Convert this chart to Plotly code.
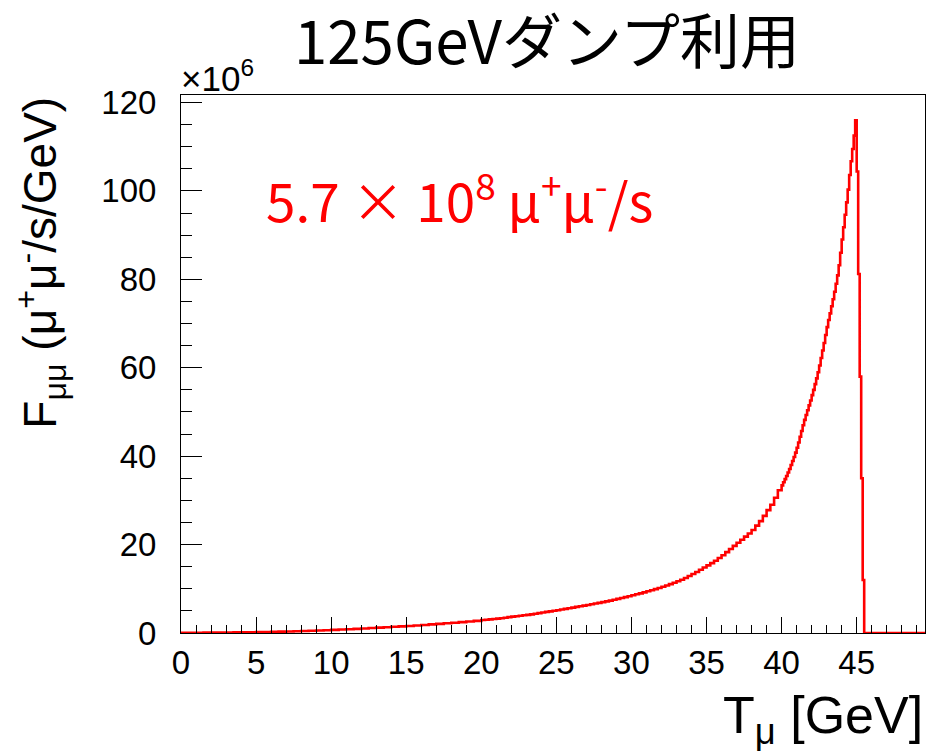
import numpy as np
import plotly.graph_objects as go

# Histogram content (x10^6 mu+mu-/s/GeV)
low_start, low_width = 0.0, 0.5
low_vals = [0.05, 0.06, 0.07, 0.08, 0.09, 0.10, 0.12, 0.14, 0.16, 0.18,
            0.20, 0.23, 0.26, 0.30, 0.34, 0.39, 0.44, 0.50, 0.56, 0.63,
            0.70, 0.78, 0.86, 0.94, 1.03, 1.12, 1.21, 1.30, 1.40, 1.50,
            1.60, 1.71, 1.82, 1.94, 2.06, 2.19, 2.32, 2.46, 2.60, 2.75]

mid_start, mid_width = 20.0, 0.25
mid_vals = [2.93, 3.00, 3.08, 3.16, 3.25, 3.35, 3.46, 3.58,
            3.70, 3.80, 3.90, 4.00, 4.10, 4.22, 4.36, 4.50,
            4.65, 4.78, 4.90, 5.03, 5.16, 5.30, 5.45, 5.60,
            5.75, 5.90, 6.05, 6.20, 6.35, 6.50, 6.66, 6.82,
            6.98, 7.15, 7.33, 7.52, 7.72, 7.92, 8.12, 8.32,
            8.53, 8.75, 8.97, 9.20, 9.43, 9.67, 9.92, 10.18,
            10.45, 10.75, 11.05, 11.37, 11.70, 12.05, 12.45, 12.90,
            13.35, 13.80, 14.30, 14.80, 15.30, 15.80, 16.35, 16.95,
            17.60, 18.30, 19.00, 19.70, 20.40, 21.10, 21.80, 22.50,
            23.30, 24.30, 25.30, 26.50, 27.80, 29.00, 30.60, 32.30]

peak_start, peak_width = 40.0, 0.1
peak_vals = [33.4, 34.1, 34.8, 35.5, 36.3, 37.1, 38.0, 38.9, 39.8, 40.8,
             41.9, 43.1, 44.4, 45.7, 47.0, 48.2, 49.3, 50.4, 51.5, 52.6,
             53.8, 55.0, 56.3, 57.6, 59.0, 60.5, 62.2, 63.9, 65.6, 67.4,
             69.2, 70.8, 72.3, 73.9, 75.5, 77.2, 79.0, 80.9, 83.2, 86.0,
             89.0, 91.8, 94.6, 97.4, 100.3, 103.6, 106.7, 109.5, 112.5, 116.0,
             104.4, 81.2, 58.0, 35.0, 12.0]

tail_start, tail_end = 45.5, 49.7
tail_val = 0.0

x_range = [0, 49.55]
y_range = [0, 121.7]

title_text = "125GeVダンプ利用"
rate_text = "5.7 × 10<sup>8</sup> μ<sup>+</sup>μ<sup>-</sup>/s"
xtitle = "T<sub>μ</sub> [GeV]"
ytitle = "F<sub>μμ</sub> (μ<sup>+</sup>μ<sup>-</sup>/s/GeV)"

# build step outline
xs, ys = [], []
for start, width, vals in [(low_start, low_width, low_vals),
                           (mid_start, mid_width, mid_vals),
                           (peak_start, peak_width, peak_vals)]:
    for i, v in enumerate(vals):
        xs.append(round(start + i * width, 4))
        ys.append(v)
xs.append(tail_start); ys.append(tail_val)
xs.append(tail_end); ys.append(tail_val)

fig = go.Figure()
fig.add_trace(go.Scatter(x=xs, y=ys, mode="lines", line=dict(color="#ff0000", width=2.6, shape="hv"),
                         showlegend=False, hoverinfo="skip"))

axis_font = dict(family="Liberation Sans, Arial, sans-serif", size=33, color="black")

# the page body adds an 8px offset, so the figure is smaller and margins compensate
fig.update_layout(
    template="none",
    width=920, height=743,
    margin=dict(l=173, r=3, t=87, b=118, autoexpand=False),
    paper_bgcolor="white", plot_bgcolor="white",
    xaxis=dict(range=x_range, showgrid=False, zeroline=False, showline=True, linecolor="black",
               linewidth=1, mirror=True, ticks="inside", ticklen=16, tickwidth=1, tickcolor="black",
               dtick=5, tick0=0, tickfont=axis_font, ticklabelstandoff=0, automargin=False,
               minor=dict(dtick=1, ticks="inside", ticklen=8, tickcolor="black", tickwidth=1)),
    yaxis=dict(range=y_range, showgrid=False, zeroline=False, showline=True, linecolor="black",
               linewidth=1, mirror=True, ticks="inside", ticklen=21, tickwidth=1, tickcolor="black",
               dtick=20, tick0=0, tickfont=axis_font, ticklabelstandoff=17, automargin=False,
               minor=dict(dtick=5, ticks="inside", ticklen=11, tickcolor="black", tickwidth=1)),
)

fig.add_annotation(text=title_text, xref="paper", yref="paper", x=0.492, y=1.107,
                   xanchor="center", yanchor="middle", showarrow=False,
                   font=dict(family="Noto Sans CJK JP", size=60, color="black"))
fig.add_annotation(text=rate_text, xref="paper", yref="paper", x=0.112, y=0.81,
                   xanchor="left", yanchor="middle", showarrow=False,
                   font=dict(family="Noto Sans CJK JP", size=53, color="#ff0000"))
fig.add_annotation(text="×10<sup>6</sup>", xref="paper", yref="paper", x=-0.003, y=0.99,
                   xanchor="left", yanchor="bottom", showarrow=False,
                   font=dict(family="Liberation Sans, Arial, sans-serif", size=35, color="black"))
fig.add_annotation(text=xtitle, xref="paper", yref="paper", x=1.0, y=-0.094,
                   xanchor="right", yanchor="top", showarrow=False,
                   font=dict(family="Liberation Sans, Arial, sans-serif", size=52, color="black"))
fig.add_annotation(text=ytitle, xref="paper", yref="paper", x=-0.19, y=1.0,
                   xanchor="center", yanchor="top", textangle=-90, showarrow=False,
                   font=dict(family="Liberation Sans, Arial, sans-serif", size=46, color="black"))

fig.write_html("out.html")
